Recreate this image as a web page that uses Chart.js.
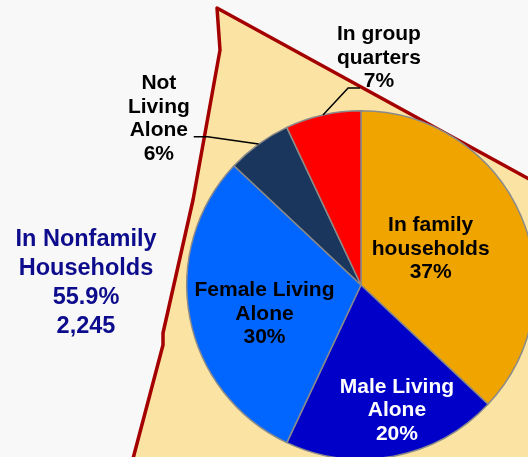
<!DOCTYPE html>
<html>
<head>
<meta charset="utf-8">
<script src="https://cdn.jsdelivr.net/npm/chart.js@4"></script>
<style>
  html, body { margin: 0; padding: 0; background: #f8f8f8; }
  #wrap { position: relative; width: 528px; height: 457px; overflow: hidden; }
  #pie { position: absolute; left: 0; top: 0; }
</style>
</head>
<body>
<div id="wrap"><canvas id="pie" width="722" height="570"></canvas></div>
<script>
// slices, clockwise from 12 o'clock
const categories = ['In family households', 'Male Living Alone', 'Female Living Alone', 'Not Living Alone', 'In group quarters'];
const shares = [37, 20, 30, 6, 7];
const sliceColors = ['#f0a400', '#0000c8', '#0066ff', '#1b365d', '#ff0000'];
const labelLines = [
  ['In family', 'households', '37%'],
  ['Male Living', 'Alone', '20%'],
  ['Female Living', 'Alone', '30%'],
  ['Not', 'Living', 'Alone', '6%'],
  ['In group', 'quarters', '7%']
];
const sideTitle = ['In Nonfamily', 'Households', '55.9%', '2,245'];

// label block centres, in outer radii from the pie centre
const labelPos = [[0.40, -0.206], [0.206, 0.72], [-0.554, 0.166], [-1.16, -0.954], [0.103, -1.303]];
const labelColor = ['#000', '#fff', '#000', '#000', '#000'];
// leader lines for the two outside labels: elbow, then end
const leaders = { 3: [[-0.88, -0.851], [-0.96, -0.851]], 4: [[-0.074, -1.131], [-0.006, -1.131]] };

const backdrop = {
  id: 'backdrop',
  beforeDraw(chart) {
    const ctx = chart.ctx;
    ctx.save();
    ctx.beginPath();
    ctx.moveTo(217, 8);
    ctx.lineTo(220, 50);
    ctx.lineTo(193, 200);
    ctx.lineTo(163, 333);
    ctx.lineTo(163, 345);
    ctx.lineTo(130, 470);
    ctx.lineTo(560, 470);
    ctx.lineTo(560, 196);
    ctx.closePath();
    ctx.fillStyle = '#fae3a3';
    ctx.fill();
    ctx.lineWidth = 3.5;
    ctx.strokeStyle = '#a50000';
    ctx.lineJoin = 'round';
    ctx.stroke();
    ctx.restore();
  }
};

const labels = {
  id: 'labels',
  afterDraw(chart) {
    const ctx = chart.ctx;
    const arcs = chart.getDatasetMeta(0).data;
    const { x: cx, y: cy, outerRadius: r } = arcs[0].getProps(['x', 'y', 'outerRadius'], true);
    ctx.save();
    ctx.textAlign = 'center';
    ctx.textBaseline = 'middle';
    ctx.font = 'bold 21px "Liberation Sans", Arial, sans-serif';

    arcs.forEach((arc, i) => {
      if (leaders[i]) {
        const { startAngle, endAngle } = arc.getProps(['startAngle', 'endAngle'], true);
        const mid = (startAngle + endAngle) / 2;
        ctx.beginPath();
        ctx.moveTo(cx + Math.cos(mid) * r, cy + Math.sin(mid) * r);
        leaders[i].forEach(p => ctx.lineTo(cx + p[0] * r, cy + p[1] * r));
        ctx.lineWidth = 1.5;
        ctx.strokeStyle = '#000';
        ctx.stroke();
      }
      const lines = labelLines[i];
      const lh = 23.5;
      const x = cx + labelPos[i][0] * r;
      const y0 = cy + labelPos[i][1] * r - (lines.length - 1) * lh / 2;
      ctx.fillStyle = labelColor[i];
      lines.forEach((t, k) => ctx.fillText(t, x, y0 + k * lh));
    });

    ctx.font = 'bold 23.5px "Liberation Sans", Arial, sans-serif';
    ctx.fillStyle = '#0c0c8c';
    sideTitle.forEach((t, k) => ctx.fillText(t, 86, 240 + k * 29));
    ctx.restore();
  }
};

new Chart(document.getElementById('pie'), {
  type: 'pie',
  data: {
    labels: categories,
    datasets: [{
      data: shares,
      backgroundColor: sliceColors,
      borderColor: '#8a8a8a',
      borderWidth: 1.5,
      hoverOffset: 0
    }]
  },
  options: {
    responsive: false,
    animation: false,
    layout: { padding: { left: 186, right: 186, top: 110, bottom: 110 } },
    plugins: { legend: { display: false }, tooltip: { enabled: false } }
  },
  plugins: [backdrop, labels]
});
</script>
</body>
</html>
